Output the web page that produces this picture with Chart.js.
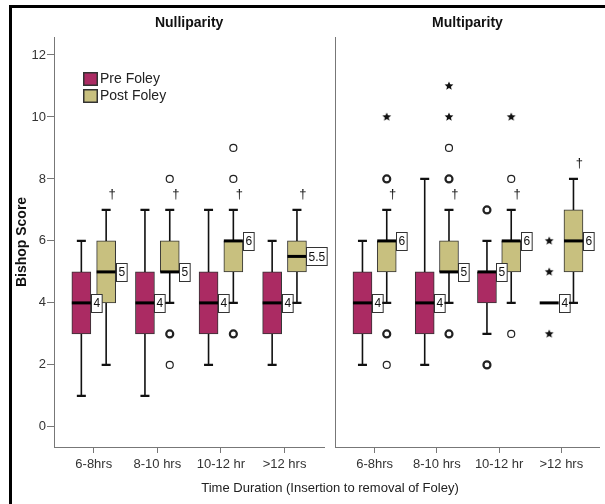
<!DOCTYPE html>
<html>
<head>
<meta charset="UTF-8">
<title>Bishop Score</title>
<script src="https://cdn.jsdelivr.net/npm/chart.js"></script>
<style>
  body { margin: 0; background: #fff; font-family: 'Liberation Sans', Arial, sans-serif; }
  #wrap { position: relative; width: 605px; height: 504px; overflow: hidden; }
  #frame { position: absolute; left: 9px; top: 5px; right: -5px; bottom: -5px;
           border-left: 3px solid #000; border-top: 3px solid #000; }
  #left { position: absolute; left: 0; top: 0; }
  #right { position: absolute; left: 330px; top: 0; }
  #xtitle { position: absolute; left: 0; width: 660px; top: 480px; text-align: center;
            font-size: 13px; color: #222; }
</style>
</head>
<body>
<div id="wrap">
  <div id="frame"></div>
  <canvas id="left" width="330" height="504"></canvas>
  <canvas id="right" width="275" height="504"></canvas>
  <div id="xtitle">Time Duration (Insertion to removal of Foley)</div>
</div>

<script>
// categories and ticks
const categories = ['6-8hrs', '8-10 hrs', '10-12 hr', '>12 hrs'];
const yTicks = [0, 2, 4, 6, 8, 10, 12];

// box stats per category: [low whisker, Q1, median, Q3, high whisker]
const nulliPre  = [[1, 3, 4, 5, 6], [1, 3, 4, 5, 7], [2, 3, 4, 5, 7], [2, 3, 4, 5, 6]];
const nulliPost = [[2, 4, 5, 6, 7], [4, 5, 5, 6, 7], [4, 5, 6, 6, 7], [4, 5, 5.5, 6, 7]];
const multiPre  = [[2, 3, 4, 5, 6], [2, 3, 4, 5, 8], [3, 4, 5, 5, 6], [4, 4, 4, 4, 4]];
const multiPost = [[4, 5, 6, 6, 7], [4, 5, 5, 6, 7], [4, 5, 6, 6, 7], [4, 5, 6, 7, 8]];

// outliers: [category index, value]
const nulliPostCircles = [[1, 8], [1, 2], [2, 9], [2, 8]];
const nulliPostBold    = [[1, 3], [2, 3]];
const multiPreBold     = [[2, 7], [2, 2]];
const multiPreStars    = [[3, 6], [3, 5], [3, 3]];
const multiPostCircles = [[0, 2], [1, 9], [2, 8], [2, 3]];
const multiPostBold    = [[0, 8], [0, 3], [1, 8], [1, 3]];
const multiPostStars   = [[0, 10], [1, 11], [1, 10], [2, 10]];

const PRE_COLOR = '#ab2b63';
const POST_COLOR = '#c8c07f';
const OFF = 0.195;   // offset of each box from the category centre
const BOX_W = 19;
const FONT = "'Liberation Sans', Arial, sans-serif";

Chart.defaults.font.family = FONT;

function makeStar(r) {
  const c = document.createElement('canvas');
  const s = Math.ceil(r * 2) + 2;
  c.width = c.height = s;
  const g = c.getContext('2d');
  g.fillStyle = '#111';
  g.beginPath();
  for (let k = 0; k < 10; k++) {
    const rad = k % 2 ? r * 0.45 : r;
    const a = -Math.PI / 2 + k * Math.PI / 5;
    g.lineTo(s / 2 + rad * Math.cos(a), s / 2 + rad * Math.sin(a));
  }
  g.closePath();
  g.fill();
  return c;
}
const starImg = makeStar(4.6);

function boxDataset(label, stats, color, off) {
  return {
    type: 'bar', label: label, stats: stats, off: off, dagger: off > 0,
    data: stats.map((s, i) => ({ x: i + off, y: [s[1], s[3]] })),
    backgroundColor: color, borderColor: '#333', borderWidth: 1, borderSkipped: false,
    barThickness: BOX_W, grouped: false
  };
}

function pointDataset(pairs, off, style, bw) {
  return {
    type: 'scatter',
    data: pairs.map(p => ({ x: p[0] + off, y: p[1] })),
    pointStyle: style, pointRadius: 3.5, pointHoverRadius: 3.5, pointBorderWidth: bw,
    pointBackgroundColor: '#fff', pointBorderColor: '#222'
  };
}

// whiskers, medians, median labels and daggers
const boxPlugin = {
  id: 'boxExtras',
  afterDatasetsDraw(chart) {
    const { ctx, scales: { x, y } } = chart;
    chart.data.datasets.forEach(ds => {
      if (!ds.stats) return;
      ds.stats.forEach((s, i) => {
        const cx = x.getPixelForValue(i + ds.off);
        const [lo, q1, med, q3, hi] = s.map(v => y.getPixelForValue(v));
        ctx.save();
        ctx.strokeStyle = '#111';
        if (hi < q3 || lo > q1) {
          ctx.lineWidth = 1.6;
          ctx.beginPath();
          ctx.moveTo(cx, q3); ctx.lineTo(cx, hi);
          ctx.moveTo(cx, q1); ctx.lineTo(cx, lo);
          ctx.stroke();
          ctx.lineWidth = 2.2;
          ctx.beginPath();
          ctx.moveTo(cx - 4.5, hi); ctx.lineTo(cx + 4.5, hi);
          ctx.moveTo(cx - 4.5, lo); ctx.lineTo(cx + 4.5, lo);
          ctx.stroke();
        }
        ctx.lineWidth = 3;
        ctx.strokeStyle = '#000';
        ctx.beginPath();
        ctx.moveTo(cx - BOX_W / 2, med); ctx.lineTo(cx + BOX_W / 2, med);
        ctx.stroke();

        // median label
        const txt = String(s[2]);
        ctx.font = '12px ' + FONT;
        const w = ctx.measureText(txt).width + 4;
        const bx = Math.round(cx + BOX_W / 2) + 0.5;
        const by = Math.round(med - 9) + 0.5;
        ctx.fillStyle = '#fff';
        ctx.fillRect(bx, by, w, 18);
        ctx.lineWidth = 1;
        ctx.strokeStyle = '#333';
        ctx.strokeRect(bx, by, w, 18);
        ctx.fillStyle = '#111';
        ctx.textAlign = 'center';
        ctx.textBaseline = 'middle';
        ctx.fillText(txt, bx + w / 2, med + 1);

        if (ds.dagger) {
          ctx.font = '13px ' + FONT;
          ctx.fillText('\u2020', cx + 6, y.getPixelForValue(s[4] + 0.5));
        }
        ctx.restore();
      });
    });
  }
};

const legendPlugin = {
  id: 'boxLegend',
  afterDraw(chart, args, opts) {
    if (!opts.show) return;
    const { ctx, chartArea } = chart;
    const left = chartArea.left + 29;
    chart.data.datasets.filter(d => d.stats).forEach((d, k) => {
      const top = chartArea.top + 35 + k * 17;
      ctx.save();
      ctx.fillStyle = d.backgroundColor;
      ctx.fillRect(left, top, 15, 14);
      ctx.strokeStyle = '#333';
      ctx.lineWidth = 1.5;
      ctx.strokeRect(left + 0.75, top + 0.75, 13.5, 12.5);
      ctx.fillStyle = '#222';
      ctx.font = '14px ' + FONT;
      ctx.textBaseline = 'middle';
      ctx.fillText(d.label, left + 17, top + 7.5);
      ctx.restore();
    });
  }
};

function makePanel(id, title, datasets, isLeft, xMax) {
  const yScale = {
    min: -0.65, max: 12.58,
    afterBuildTicks: s => { s.ticks = yTicks.map(v => ({ value: v })); },
    afterFit: s => { s.width = isLeft ? 44 : 0; },
    border: { display: true, color: '#777', width: 1 },
    grid: { drawOnChartArea: false, drawTicks: isLeft, tickLength: 7, color: '#777' },
    ticks: { display: isLeft, font: { size: 13 }, color: '#333', padding: 1 },
    title: {
      display: isLeft, text: 'Bishop Score', color: '#111',
      font: { size: 14, weight: 'bold' }, padding: { top: 4, bottom: 0 }
    }
  };
  return new Chart(document.getElementById(id), {
    type: 'bar',
    data: { datasets: datasets },
    plugins: [boxPlugin, legendPlugin],
    options: {
      responsive: false,
      animation: false,
      layout: { padding: { left: isLeft ? 10 : 4, right: isLeft ? 4 : 0, top: 0, bottom: 0 } },
      scales: {
        x: {
          type: 'linear', min: -0.625, max: xMax, offset: false,
          afterBuildTicks: s => { s.ticks = categories.map((c, i) => ({ value: i })); },
          afterFit: s => { s.height = 57; },
          border: { color: '#777', width: 1 },
          grid: { offset: false, drawOnChartArea: false, tickLength: 6, color: '#777' },
          ticks: { callback: v => categories[v], font: { size: 13 }, color: '#333', padding: 4, maxRotation: 0 }
        },
        y: yScale
      },
      plugins: {
        legend: { display: false },
        tooltip: { enabled: false },
        boxLegend: { show: isLeft },
        title: {
          display: true, text: title, fullSize: false, color: '#111',
          font: { size: 14, weight: 'bold' }, padding: { top: 14.6, bottom: 5.6 }
        }
      }
    }
  });
}

makePanel('left', 'Nulliparity', [
  boxDataset('Pre Foley', nulliPre, PRE_COLOR, -OFF),
  boxDataset('Post Foley', nulliPost, POST_COLOR, OFF),
  pointDataset(nulliPostCircles, OFF, 'circle', 1.2),
  pointDataset(nulliPostBold, OFF, 'circle', 2.2)
], true, 3.625);

makePanel('right', 'Multiparity', [
  boxDataset('Pre Foley', multiPre, PRE_COLOR, -OFF),
  boxDataset('Post Foley', multiPost, POST_COLOR, OFF),
  pointDataset(multiPreBold, -OFF, 'circle', 2.2),
  pointDataset(multiPreStars, -OFF, starImg, 1),
  pointDataset(multiPostCircles, OFF, 'circle', 1.2),
  pointDataset(multiPostBold, OFF, 'circle', 2.2),
  pointDataset(multiPostStars, OFF, starImg, 1)
], false, 3.61);
</script>
</body>
</html>
